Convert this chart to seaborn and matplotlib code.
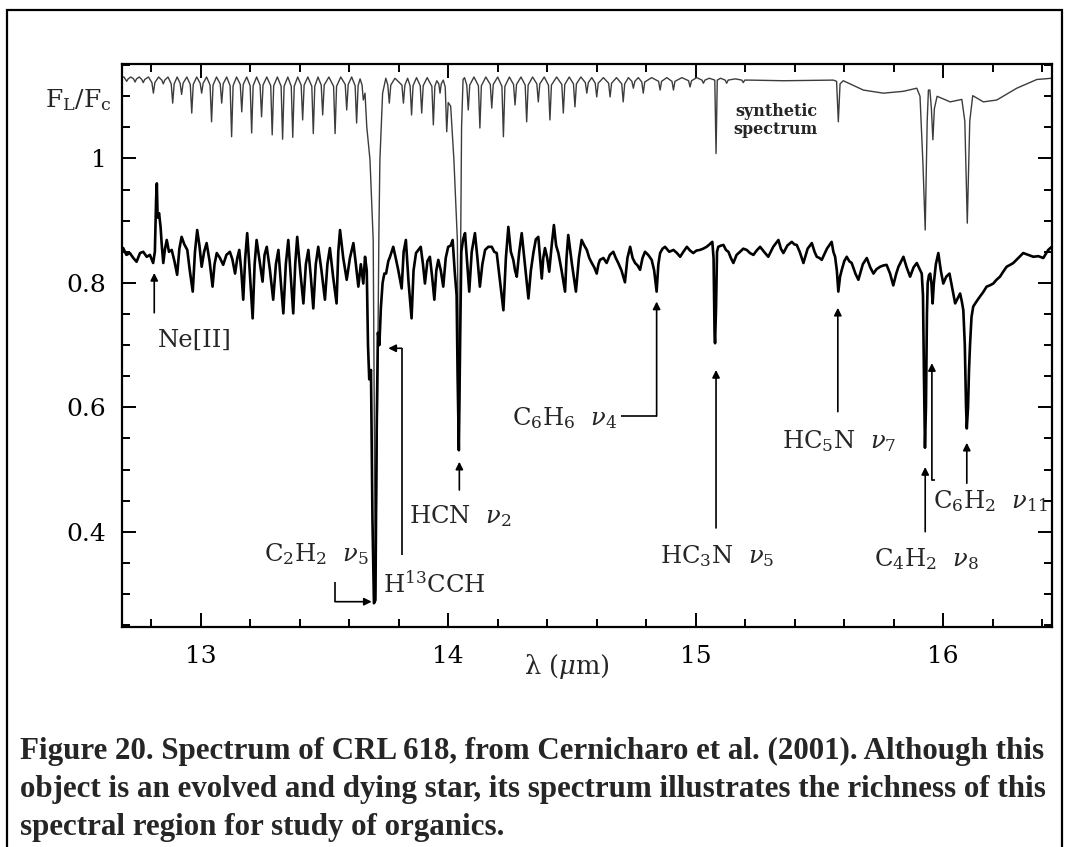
import matplotlib
matplotlib.use("Agg")
import matplotlib.pyplot as plt
import seaborn as sns
import pandas as pd
from matplotlib.ticker import FixedLocator, MultipleLocator, FuncFormatter
from matplotlib.patches import Rectangle

# ---------------- data ----------------
# synthetic spectrum (wavelength in micron, F_L/F_c)
syn_points = [
    (12.681, 1.130), (12.690, 1.131),
    (12.695, 1.128), (12.701, 1.124), (12.707, 1.128), (12.718, 1.131),
    (12.729, 1.128), (12.735, 1.123), (12.741, 1.128), (12.752, 1.131),
    (12.762, 1.127), (12.768, 1.122), (12.774, 1.127), (12.789, 1.131),
    (12.803, 1.122), (12.809, 1.105), (12.815, 1.122), (12.830, 1.131),
    (12.843, 1.126), (12.849, 1.120), (12.855, 1.126), (12.868, 1.131),
    (12.881, 1.120), (12.887, 1.089), (12.893, 1.120), (12.905, 1.131),
    (12.917, 1.121), (12.923, 1.103), (12.929, 1.121), (12.944, 1.131),
    (12.958, 1.119), (12.964, 1.073), (12.970, 1.119), (12.984, 1.131),
    (12.998, 1.121), (13.004, 1.105), (13.010, 1.121), (13.024, 1.131),
    (13.038, 1.118), (13.044, 1.059), (13.050, 1.118), (13.064, 1.131),
    (13.079, 1.120), (13.085, 1.089), (13.091, 1.120), (13.105, 1.131),
    (13.119, 1.117), (13.125, 1.035), (13.131, 1.117), (13.145, 1.131),
    (13.160, 1.119), (13.166, 1.075), (13.172, 1.119), (13.186, 1.131),
    (13.200, 1.117), (13.206, 1.041), (13.212, 1.117), (13.226, 1.131),
    (13.240, 1.118), (13.246, 1.067), (13.252, 1.118), (13.267, 1.131),
    (13.283, 1.117), (13.289, 1.038), (13.295, 1.117), (13.310, 1.131),
    (13.325, 1.116), (13.331, 1.031), (13.337, 1.116), (13.352, 1.131),
    (13.366, 1.116), (13.372, 1.034), (13.378, 1.116), (13.392, 1.131),
    (13.406, 1.118), (13.412, 1.062), (13.418, 1.118), (13.433, 1.131),
    (13.449, 1.116), (13.455, 1.040), (13.461, 1.116), (13.474, 1.131),
    (13.487, 1.118), (13.493, 1.070), (13.499, 1.118), (13.518, 1.131),
    (13.537, 1.116), (13.543, 1.040), (13.549, 1.116), (13.566, 1.131),
    (13.584, 1.119), (13.590, 1.078), (13.596, 1.119), (13.610, 1.131),
    (13.624, 1.117), (13.630, 1.057), (13.636, 1.117), (13.644, 1.128),
    (13.652, 1.118), (13.657, 1.094), (13.664, 1.105), (13.671, 1.051),
    (13.684, 0.998), (13.697, 0.869), (13.706, 0.300), (13.714, 0.600),
    (13.720, 0.880), (13.724, 0.997), (13.735, 1.105), (13.748, 1.129),
    (13.756, 1.118), (13.762, 1.089), (13.768, 1.118), (13.785, 1.129),
    (13.813, 1.118), (13.819, 1.089), (13.825, 1.118), (13.836, 1.129),
    (13.846, 1.117), (13.852, 1.070), (13.858, 1.117), (13.872, 1.130),
    (13.887, 1.117), (13.893, 1.073), (13.899, 1.117), (13.915, 1.130),
    (13.934, 1.116), (13.940, 1.054), (13.946, 1.116), (13.954, 1.125),
    (13.962, 1.120), (13.967, 1.105), (13.972, 1.120), (13.980, 1.126),
    (13.988, 1.115), (13.994, 1.043), (14.000, 1.090), (14.010, 1.084),
    (14.023, 0.998), (14.037, 0.869), (14.044, 0.535), (14.049, 0.800),
    (14.054, 1.050), (14.060, 1.127), (14.066, 1.130),
    (14.075, 1.118), (14.081, 1.078), (14.087, 1.118), (14.104, 1.131),
    (14.122, 1.117), (14.128, 1.049), (14.134, 1.117), (14.152, 1.131),
    (14.170, 1.119), (14.176, 1.081), (14.182, 1.119), (14.200, 1.131),
    (14.217, 1.116), (14.223, 1.035), (14.229, 1.116), (14.247, 1.131),
    (14.264, 1.119), (14.270, 1.086), (14.276, 1.119), (14.294, 1.131),
    (14.311, 1.118), (14.317, 1.059), (14.323, 1.118), (14.341, 1.131),
    (14.358, 1.120), (14.364, 1.091), (14.370, 1.120), (14.388, 1.131),
    (14.405, 1.118), (14.411, 1.062), (14.417, 1.118), (14.438, 1.131),
    (14.459, 1.119), (14.465, 1.073), (14.471, 1.119), (14.489, 1.131),
    (14.506, 1.120), (14.512, 1.083), (14.518, 1.120), (14.536, 1.131),
    (14.554, 1.122), (14.560, 1.105), (14.566, 1.122), (14.580, 1.130),
    (14.594, 1.121), (14.600, 1.099), (14.606, 1.121), (14.627, 1.130),
    (14.648, 1.121), (14.654, 1.099), (14.660, 1.121), (14.680, 1.130),
    (14.701, 1.120), (14.707, 1.091), (14.713, 1.120), (14.728, 1.130),
    (14.742, 1.124), (14.748, 1.113), (14.754, 1.124), (14.768, 1.130),
    (14.782, 1.123), (14.788, 1.105), (14.794, 1.123), (14.822, 1.130),
    (14.850, 1.124), (14.856, 1.110), (14.862, 1.124), (14.883, 1.130),
    (14.904, 1.124), (14.910, 1.110), (14.916, 1.124), (14.944, 1.130),
    (14.971, 1.125), (14.977, 1.115), (14.983, 1.125), (15.004, 1.130),
    (15.025, 1.126), (15.031, 1.121), (15.037, 1.126), (15.055, 1.129),
    (15.077, 1.126), (15.082, 1.008), (15.087, 1.126), (15.100, 1.129),
    (15.119, 1.126), (15.125, 1.121), (15.131, 1.126), (15.160, 1.128),
    (15.186, 1.126), (15.192, 1.122), (15.198, 1.126), (15.219, 1.126),
    (15.354, 1.125), (15.556, 1.126), (15.569, 1.124), (15.576, 1.059),
    (15.583, 1.120), (15.596, 1.125), (15.677, 1.110), (15.758, 1.105),
    (15.839, 1.108), (15.893, 1.113), (15.906, 1.100), (15.918, 0.990),
    (15.927, 0.885), (15.935, 1.060), (15.940, 1.110), (15.946, 1.110),
    (15.952, 1.080), (15.958, 1.030), (15.964, 1.080), (15.975, 1.100),
    (16.028, 1.091), (16.075, 1.095), (16.087, 1.060), (16.097, 0.896),
    (16.107, 1.060), (16.119, 1.101), (16.162, 1.091), (16.216, 1.094),
    (16.297, 1.113), (16.378, 1.127), (16.438, 1.129),
]

# observed ISO spectrum of CRL 618
obs_points = [
    (12.681, 0.852), (12.687, 0.856), (12.700, 0.845), (12.714, 0.848),
    (12.728, 0.840), (12.741, 0.834), (12.755, 0.848), (12.768, 0.850),
    (12.782, 0.842), (12.795, 0.845), (12.808, 0.832), (12.815, 0.850),
    (12.820, 0.935), (12.823, 0.960), (12.826, 0.905), (12.832, 0.912),
    (12.838, 0.890), (12.843, 0.860), (12.849, 0.832), (12.856, 0.855),
    (12.863, 0.869), (12.872, 0.850), (12.883, 0.853), (12.894, 0.835),
    (12.905, 0.813), (12.914, 0.855), (12.923, 0.874), (12.934, 0.862),
    (12.946, 0.853), (12.956, 0.820), (12.968, 0.786), (12.977, 0.850),
    (12.986, 0.885), (12.995, 0.860), (13.004, 0.826), (13.014, 0.850),
    (13.024, 0.864), (13.036, 0.835), (13.048, 0.794), (13.056, 0.830),
    (13.065, 0.848), (13.078, 0.840), (13.091, 0.829), (13.104, 0.845),
    (13.118, 0.850), (13.128, 0.838), (13.139, 0.815), (13.148, 0.840),
    (13.156, 0.853), (13.164, 0.820), (13.172, 0.773), (13.180, 0.840),
    (13.188, 0.880), (13.198, 0.820), (13.210, 0.743), (13.218, 0.830),
    (13.226, 0.869), (13.238, 0.835), (13.250, 0.802), (13.258, 0.845),
    (13.267, 0.858), (13.280, 0.820), (13.293, 0.773), (13.304, 0.830),
    (13.314, 0.853), (13.324, 0.800), (13.334, 0.751), (13.344, 0.830),
    (13.354, 0.869), (13.364, 0.810), (13.374, 0.751), (13.382, 0.830),
    (13.390, 0.874), (13.402, 0.820), (13.415, 0.767), (13.425, 0.830),
    (13.435, 0.853), (13.445, 0.810), (13.455, 0.759), (13.465, 0.830),
    (13.475, 0.858), (13.488, 0.820), (13.502, 0.773), (13.512, 0.830),
    (13.522, 0.856), (13.535, 0.810), (13.549, 0.767), (13.556, 0.850),
    (13.563, 0.885), (13.576, 0.840), (13.590, 0.805), (13.603, 0.840),
    (13.617, 0.864), (13.627, 0.830), (13.637, 0.794), (13.647, 0.830),
    (13.657, 0.799), (13.664, 0.842), (13.671, 0.820), (13.676, 0.700),
    (13.681, 0.645), (13.688, 0.660), (13.694, 0.420), (13.700, 0.285),
    (13.706, 0.290), (13.711, 0.560), (13.716, 0.720), (13.722, 0.700),
    (13.728, 0.760), (13.735, 0.800), (13.742, 0.815), (13.749, 0.815),
    (13.758, 0.835), (13.765, 0.842), (13.778, 0.858), (13.788, 0.840),
    (13.798, 0.821), (13.812, 0.791), (13.820, 0.850), (13.829, 0.869),
    (13.840, 0.800), (13.852, 0.743), (13.860, 0.820), (13.870, 0.848),
    (13.889, 0.858), (13.898, 0.830), (13.906, 0.799), (13.916, 0.835),
    (13.926, 0.842), (13.935, 0.810), (13.944, 0.773), (13.952, 0.820),
    (13.960, 0.837), (13.970, 0.820), (13.980, 0.794), (13.990, 0.840),
    (14.000, 0.858), (14.010, 0.860), (14.018, 0.869), (14.026, 0.820),
    (14.034, 0.780), (14.038, 0.650), (14.043, 0.531), (14.048, 0.700),
    (14.053, 0.850), (14.060, 0.870), (14.068, 0.880), (14.077, 0.830),
    (14.085, 0.786), (14.095, 0.850), (14.108, 0.880), (14.118, 0.840),
    (14.128, 0.794), (14.138, 0.830), (14.149, 0.853), (14.162, 0.858),
    (14.176, 0.858), (14.186, 0.850), (14.196, 0.848), (14.210, 0.800),
    (14.223, 0.756), (14.233, 0.840), (14.243, 0.890), (14.253, 0.850),
    (14.263, 0.837), (14.270, 0.820), (14.277, 0.810), (14.287, 0.850),
    (14.297, 0.880), (14.310, 0.830), (14.324, 0.775), (14.334, 0.820),
    (14.344, 0.848), (14.354, 0.870), (14.364, 0.874), (14.371, 0.840),
    (14.378, 0.807), (14.384, 0.840), (14.391, 0.856), (14.400, 0.840),
    (14.408, 0.818), (14.418, 0.860), (14.427, 0.893), (14.436, 0.860),
    (14.445, 0.848), (14.458, 0.820), (14.472, 0.786), (14.478, 0.840),
    (14.485, 0.877), (14.500, 0.830), (14.516, 0.786), (14.528, 0.840),
    (14.539, 0.869), (14.550, 0.860), (14.560, 0.853), (14.570, 0.840),
    (14.580, 0.832), (14.590, 0.825), (14.600, 0.815), (14.607, 0.830),
    (14.613, 0.837), (14.627, 0.840), (14.640, 0.832), (14.653, 0.845),
    (14.667, 0.850), (14.677, 0.840), (14.687, 0.832), (14.700, 0.820),
    (14.714, 0.801), (14.724, 0.840), (14.735, 0.858), (14.745, 0.840),
    (14.755, 0.832), (14.765, 0.828), (14.775, 0.821), (14.785, 0.840),
    (14.795, 0.850), (14.808, 0.845), (14.822, 0.837), (14.832, 0.820),
    (14.842, 0.786), (14.849, 0.830), (14.856, 0.848), (14.866, 0.855),
    (14.876, 0.858), (14.893, 0.850), (14.910, 0.853), (14.924, 0.848),
    (14.937, 0.842), (14.950, 0.850), (14.964, 0.858), (14.977, 0.852),
    (14.990, 0.848), (15.003, 0.852), (15.017, 0.853), (15.030, 0.855),
    (15.044, 0.858), (15.056, 0.862), (15.067, 0.866), (15.072, 0.840),
    (15.076, 0.720), (15.078, 0.703), (15.082, 0.760), (15.086, 0.850),
    (15.091, 0.858), (15.102, 0.860), (15.112, 0.861), (15.122, 0.853),
    (15.132, 0.850), (15.142, 0.840), (15.152, 0.832), (15.165, 0.845),
    (15.179, 0.850), (15.192, 0.855), (15.206, 0.853), (15.219, 0.848),
    (15.233, 0.845), (15.246, 0.852), (15.260, 0.858), (15.276, 0.850),
    (15.293, 0.842), (15.313, 0.858), (15.334, 0.869), (15.344, 0.855),
    (15.354, 0.848), (15.370, 0.860), (15.388, 0.866), (15.398, 0.862),
    (15.408, 0.861), (15.420, 0.850), (15.435, 0.832), (15.452, 0.855),
    (15.469, 0.864), (15.480, 0.850), (15.489, 0.842), (15.500, 0.840),
    (15.509, 0.837), (15.530, 0.855), (15.549, 0.866), (15.556, 0.850),
    (15.563, 0.842), (15.570, 0.820), (15.576, 0.786), (15.583, 0.810),
    (15.590, 0.821), (15.600, 0.835), (15.610, 0.842), (15.620, 0.835),
    (15.630, 0.832), (15.645, 0.815), (15.657, 0.805), (15.675, 0.830),
    (15.691, 0.840), (15.705, 0.825), (15.718, 0.815), (15.730, 0.822),
    (15.745, 0.826), (15.758, 0.828), (15.771, 0.829), (15.785, 0.815),
    (15.798, 0.796), (15.810, 0.815), (15.819, 0.826), (15.830, 0.835),
    (15.839, 0.842), (15.852, 0.825), (15.866, 0.810), (15.880, 0.825),
    (15.893, 0.832), (15.905, 0.822), (15.913, 0.815), (15.918, 0.780),
    (15.922, 0.650), (15.926, 0.535), (15.930, 0.600), (15.934, 0.750),
    (15.937, 0.800), (15.942, 0.812), (15.947, 0.815), (15.952, 0.800),
    (15.957, 0.767), (15.962, 0.800), (15.970, 0.830), (15.980, 0.848),
    (15.990, 0.820), (16.000, 0.799), (16.012, 0.810), (16.025, 0.815),
    (16.037, 0.790), (16.048, 0.767), (16.058, 0.775), (16.068, 0.783),
    (16.075, 0.770), (16.081, 0.756), (16.087, 0.700), (16.092, 0.600),
    (16.095, 0.566), (16.100, 0.600), (16.104, 0.660), (16.108, 0.700),
    (16.114, 0.745), (16.121, 0.762), (16.134, 0.770), (16.148, 0.778),
    (16.161, 0.785), (16.175, 0.794), (16.188, 0.796), (16.202, 0.799),
    (16.215, 0.805), (16.229, 0.810), (16.242, 0.818), (16.256, 0.826),
    (16.270, 0.829), (16.283, 0.832), (16.303, 0.840), (16.323, 0.848),
    (16.343, 0.845), (16.364, 0.842), (16.384, 0.843), (16.404, 0.840),
    (16.424, 0.853), (16.438, 0.858),
]

x_major = [13, 14, 15, 16]
y_major = [0.4, 0.6, 0.8, 1.0]
y_major_labels = ["0.4", "0.6", "0.8", "1"]

line_labels = [r"Ne[II]", r"C$_2$H$_2$  $\nu_5$", r"H$^{13}$CCH", r"HCN  $\nu_2$",
               r"C$_6$H$_6$  $\nu_4$", r"HC$_3$N  $\nu_5$", r"HC$_5$N  $\nu_7$",
               r"C$_4$H$_2$  $\nu_8$", r"C$_6$H$_2$  $\nu_{11}$"]

caption_lines = [
    "Figure 20. Spectrum of CRL 618, from Cernicharo et al. (2001). Although this",
    "object is an evolved and dying star, its spectrum illustrates the richness of this",
    "spectral region for study of organics.",
]

# ---------------- figure ----------------
sns.set_style("ticks")
plt.rcParams["font.family"] = ["DejaVu Serif", "DejaVu Sans"]
plt.rcParams["mathtext.fontset"] = "dejavuserif"

W, H = 1068, 847
fig = plt.figure(figsize=(W / 100, H / 100), dpi=100)
fig.patch.set_facecolor("white")

def fx(px):
    return px / W

def fy(py):
    return 1 - py / H

ax = fig.add_axes([fx(121.7), fy(626.7), fx(1051.7) - fx(121.7), fy(64) - fy(626.7)])

syn = pd.DataFrame(syn_points, columns=["wl", "flux"])
obs = pd.DataFrame(obs_points, columns=["wl", "flux"])

sns.lineplot(data=syn, x="wl", y="flux", ax=ax, color="#3c3c3c", lw=1.0,
             sort=False, estimator=None)
sns.lineplot(data=obs, x="wl", y="flux", ax=ax, color="black", lw=1.9,
             sort=False, estimator=None)

ax.set_xlim(12.681, 16.438)
ax.set_ylim(0.2473, 1.1519)
ax.set_xlabel("")
ax.set_ylabel("")

ax.xaxis.set_major_locator(FixedLocator(x_major))
ax.xaxis.set_minor_locator(MultipleLocator(0.2))
ax.yaxis.set_major_locator(FixedLocator(y_major))
ax.yaxis.set_minor_locator(MultipleLocator(0.05))
ax.yaxis.set_major_formatter(FuncFormatter(
    lambda v, p: y_major_labels[min(range(len(y_major)), key=lambda i: abs(y_major[i] - v))]))
ax.xaxis.set_major_formatter(FuncFormatter(lambda v, p: f"{v:.0f}"))

ax.tick_params(which="both", direction="in", top=True, right=True, width=1.4, colors="black")
ax.tick_params(which="major", length=10)
ax.tick_params(which="minor", length=5.5)
ax.tick_params(axis="x", which="major", pad=13.5, labelsize=18)
ax.tick_params(axis="y", which="major", pad=11, labelsize=18)
for s in ax.spines.values():
    s.set_linewidth(1.6)
    s.set_color("black")
    s.set_visible(True)

# axis titles
fig.text(fx(567), fy(666), r"λ ($\mu$m)", ha="center", va="center", fontsize=18.5)
fig.text(fx(78), fy(107), r"F$_\mathrm{L}$/F$_\mathrm{c}$", ha="center", va="baseline", fontsize=18)

# synthetic spectrum label
ax.text(15.324, 1.069, "synthetic", ha="center", va="baseline", fontsize=11.5, fontweight="semibold")
ax.text(15.324, 1.039, "spectrum", ha="center", va="baseline", fontsize=11.5, fontweight="semibold")

# line identifications (text centre x, baseline y)
label_pos = [(12.975, 0.697), (13.467, 0.352), (13.943, 0.302), (14.048, 0.4135),
             (14.472, 0.5715), (15.086, 0.349), (15.579, 0.534), (15.933, 0.344),
             (16.189, 0.438)]
for lab, (lx, ly) in zip(line_labels, label_pos):
    ax.text(lx, ly, lab, ha="center", va="baseline", fontsize=17.5)

# arrows: polyline, last segment carries the head
arrow_paths = [
    [(12.8125, 0.752), (12.8125, 0.816)],
    [(13.543, 0.3196), (13.543, 0.2875), (13.691, 0.2875)],
    [(13.812, 0.3626), (13.812, 0.6949), (13.758, 0.6949)],
    [(14.045, 0.467), (14.045, 0.5125)],
    [(14.698, 0.586), (14.842, 0.586), (14.842, 0.770)],
    [(15.082, 0.406), (15.082, 0.660)],
    [(15.574, 0.593), (15.574, 0.760)],
    [(15.927, 0.400), (15.927, 0.504)],
    [(16.095, 0.478), (16.095, 0.543)],
    [(15.967, 0.483), (15.954, 0.483), (15.954, 0.671)],
]
for path in arrow_paths:
    if len(path) > 2:
        xs = [p[0] for p in path[:-1]]
        ys = [p[1] for p in path[:-1]]
        ax.plot(xs, ys, color="black", lw=1.2, solid_capstyle="butt")
    ax.annotate("", xy=path[-1], xytext=path[-2],
                arrowprops=dict(arrowstyle="-|>", color="black", lw=1.2,
                                shrinkA=0, shrinkB=0, mutation_scale=11))

# outer frame
fig.patches.append(Rectangle((fx(7), fy(870)), fx(1062) - fx(7), fy(10) - fy(870),
                             transform=fig.transFigure, fill=False, lw=1.6,
                             edgecolor="black", zorder=10))

# caption
for i, line in enumerate(caption_lines):
    fig.text(fx(20), fy(759 + 38 * i), line, ha="left", va="baseline",
             fontsize=22.3, fontweight="bold", family=["Liberation Serif", "DejaVu Serif"])

fig.savefig("out.png", dpi=100, facecolor="white")
